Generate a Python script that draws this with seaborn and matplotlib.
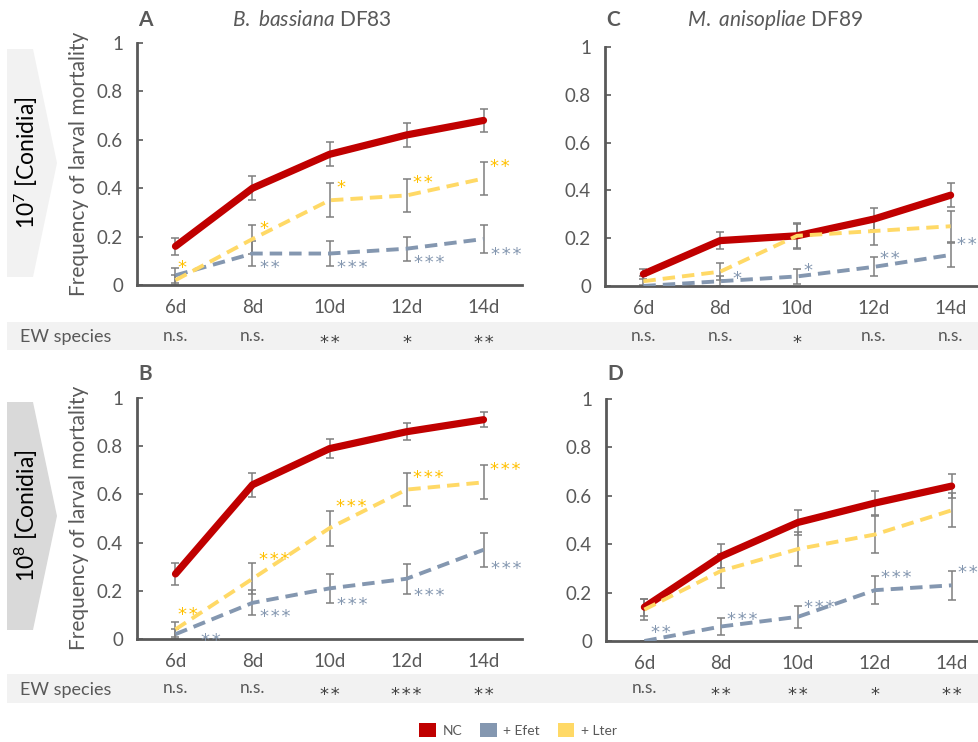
import numpy as np
import pandas as pd
import matplotlib
matplotlib.use("Agg")
import matplotlib.pyplot as plt
import matplotlib.patches as mpatches
import matplotlib.transforms as mtrans
import seaborn as sns

# ---------------- data ----------------
days = ["6d", "8d", "10d", "12d", "14d"]
series_names = ["NC", "+ Efet", "+ Lter"]

# Panel A: B. bassiana DF83, 10^7 conidia
a_nc = [0.16, 0.40, 0.54, 0.62, 0.68]
a_nc_err = [0.035, 0.05, 0.05, 0.05, 0.048]
a_efet = [0.04, 0.13, 0.13, 0.15, 0.19]
a_efet_err = [0.03, 0.05, 0.05, 0.05, 0.057]
a_lter = [0.02, 0.19, 0.35, 0.37, 0.44]
a_lter_err = [0.02, 0.06, 0.07, 0.07, 0.07]
a_efet_sig = ["", "**", "***", "***", "***"]
a_lter_sig = ["*", "*", "*", "**", "**"]
a_ew = ["n.s.", "n.s.", "**", "*", "**"]

# Panel C: M. anisopliae DF89, 10^7 conidia
c_nc = [0.05, 0.19, 0.21, 0.28, 0.38]
c_nc_err = [0.02, 0.037, 0.055, 0.045, 0.05]
c_efet = [0.0, 0.02, 0.04, 0.08, 0.13]
c_efet_err = [0.005, 0.02, 0.03, 0.04, 0.05]
c_lter = [0.02, 0.06, 0.21, 0.23, 0.25]
c_lter_err = [0.02, 0.035, 0.05, 0.06, 0.065]
c_efet_sig = ["", "*", "*", "**", "**"]
c_lter_sig = ["", "", "", "", ""]
c_ew = ["n.s.", "n.s.", "*", "n.s.", "n.s."]

# Panel B: B. bassiana DF83, 10^8 conidia
b_nc = [0.27, 0.64, 0.79, 0.86, 0.91]
b_nc_err = [0.045, 0.05, 0.04, 0.035, 0.03]
b_efet = [0.02, 0.15, 0.21, 0.25, 0.37]
b_efet_err = [0.02, 0.052, 0.06, 0.063, 0.07]
b_lter = [0.04, 0.25, 0.46, 0.62, 0.65]
b_lter_err = [0.03, 0.065, 0.073, 0.07, 0.07]
b_efet_sig = ["**", "***", "***", "***", "***"]
b_lter_sig = ["**", "***", "***", "***", "***"]
b_ew = ["n.s.", "n.s.", "**", "***", "**"]

# Panel D: M. anisopliae DF89, 10^8 conidia
d_nc = [0.14, 0.35, 0.49, 0.57, 0.64]
d_nc_err = [0.035, 0.05, 0.05, 0.05, 0.05]
d_efet = [0.0, 0.06, 0.10, 0.21, 0.23]
d_efet_err = [0.0, 0.037, 0.045, 0.058, 0.06]
d_lter = [0.13, 0.29, 0.38, 0.44, 0.54]
d_lter_err = [0.045, 0.07, 0.07, 0.075, 0.07]
d_efet_sig = ["**", "***", "***", "***", "**"]
d_lter_sig = ["", "", "", "", ""]
d_ew = ["n.s.", "**", "**", "*", "**"]

yticks = [0, 0.2, 0.4, 0.6, 0.8, 1]
ytick_labels = ["0", "0.2", "0.4", "0.6", "0.8", "1"]

# ---------------- style ----------------
sns.set_theme(style="white")
FONT = "Lato"
plt.rcParams["font.family"] = [FONT, "DejaVu Sans"]
plt.rcParams["mathtext.fontset"] = "custom"
plt.rcParams["mathtext.rm"] = FONT
plt.rcParams["mathtext.it"] = FONT + ":italic"
plt.rcParams["mathtext.bf"] = FONT + ":bold"

RED = "#C00000"
BLUE = "#8497B0"
YELLOW = "#FFD966"
STAR_Y = "#FFC000"
TXT = "#595959"
AXC = "#595959"
ERRC = "#7F7F7F"

W, H = 979, 742
fig = plt.figure(figsize=(W / 100, H / 100), dpi=100)


def fx(px):
    return px / W


def fy(py):
    return 1 - py / H


# left arrows (chevrons)
for (top, bot, col) in [(49, 277, "#F2F2F2"), (402, 630, "#D9D9D9")]:
    mid = (top + bot) / 2
    pts = [(fx(7), fy(top)), (fx(33), fy(top)), (fx(57), fy(mid)),
           (fx(33), fy(bot)), (fx(7), fy(bot))]
    fig.patches.append(mpatches.Polygon(pts, closed=True, transform=fig.transFigure,
                                        facecolor=col, edgecolor="none", zorder=-5))

fig.text(fx(26), fy(163), r"$\mathregular{10^7}$ [Conidia]", rotation=90,
         ha="center", va="center", fontsize=16.5, color="black")
fig.text(fx(26), fy(516), r"$\mathregular{10^8}$ [Conidia]", rotation=90,
         ha="center", va="center", fontsize=16.5, color="black")

# EW species strips
for (top, bot) in [(322, 350), (674, 703)]:
    fig.patches.append(mpatches.Rectangle((fx(7), fy(bot)), fx(979) - fx(7), fy(top) - fy(bot),
                                          transform=fig.transFigure, facecolor="#F2F2F2",
                                          edgecolor="none", zorder=-5))
    fig.text(fx(20), fy((top + bot) / 2 + 1), "EW species", ha="left", va="center",
             fontsize=13, color=TXT)

# y labels
for cy in [164, 518]:
    fig.text(fx(79), fy(cy), "Frequency of larval mortality", rotation=90,
             ha="center", va="center", fontsize=15, color=TXT)

panels = [
    dict(rect=(137, 43, 522, 285), letter="A", title=r"$\it{B.\ bassiana}$ DF83",
         title_x=312, title_y=20, strip_y=336,
         nc=a_nc, nce=a_nc_err, ef=a_efet, efe=a_efet_err, lt=a_lter, lte=a_lter_err,
         efs=a_efet_sig, lts=a_lter_sig, ew=a_ew, ef_below=True),
    dict(rect=(605, 47, 989, 286), letter="C", title=r"$\it{M.\ anisopliae}$ DF89",
         title_x=775, title_y=20, strip_y=336,
         nc=c_nc, nce=c_nc_err, ef=c_efet, efe=c_efet_err, lt=c_lter, lte=c_lter_err,
         efs=c_efet_sig, lts=c_lter_sig, ew=c_ew, ef_below=False),
    dict(rect=(137, 398, 522, 639), letter="B", title=None,
         title_x=None, title_y=374, strip_y=688,
         nc=b_nc, nce=b_nc_err, ef=b_efet, efe=b_efet_err, lt=b_lter, lte=b_lter_err,
         efs=b_efet_sig, lts=b_lter_sig, ew=b_ew, ef_below=True),
    dict(rect=(606, 399, 990, 641), letter="D", title=None,
         title_x=None, title_y=374, strip_y=688,
         nc=d_nc, nce=d_nc_err, ef=d_efet, efe=d_efet_err, lt=d_lter, lte=d_lter_err,
         efs=d_efet_sig, lts=d_lter_sig, ew=d_ew, ef_below=False),
]

xpos = np.arange(len(days))

STAR_FS = 13
STAR_FAMILY = ["DejaVu Sans"]
# the DejaVu asterisk sits near cap height; shift baseline so its centre lands on the anchor
STAR_SHIFT = -0.55 * STAR_FS


def add_stars(ax, x, y, s, color, transform=None, ha="left"):
    base = transform if transform is not None else ax.transData
    tr = mtrans.offset_copy(base, fig=fig, x=0, y=STAR_SHIFT, units="points")
    ax.text(x, y, "\u200a".join(s), transform=tr, color=color, fontsize=STAR_FS,
            family=STAR_FAMILY, ha=ha, va="baseline", zorder=6, clip_on=False)


for p in panels:
    l, t, r, b = p["rect"]
    ax = fig.add_axes([fx(l), fy(b), fx(r) - fx(l), fy(t) - fy(b)])
    ax.set_facecolor("none")

    df = pd.DataFrame({
        "x": np.tile(xpos, 3),
        "y": np.concatenate([p["nc"], p["ef"], p["lt"]]),
        "err": np.concatenate([p["nce"], p["efe"], p["lte"]]),
        "series": np.repeat(series_names, len(days)),
    })

    # error bars
    for name in series_names:
        sub = df[df["series"] == name]
        ax.errorbar(sub["x"], sub["y"], yerr=sub["err"], fmt="none", ecolor=ERRC,
                    elinewidth=1.1, capsize=2.6, capthick=1.1, zorder=2)

    sns.lineplot(data=df[df["series"] == "NC"], x="x", y="y", ax=ax, color=RED,
                 lw=5.2, solid_capstyle="round", solid_joinstyle="round", zorder=3,
                 legend=False)
    sns.lineplot(data=df[df["series"] == "+ Efet"], x="x", y="y", ax=ax, color=BLUE,
                 lw=2.8, linestyle=(0, (3.2, 1.8)), zorder=4, legend=False)
    sns.lineplot(data=df[df["series"] == "+ Lter"], x="x", y="y", ax=ax, color=YELLOW,
                 lw=2.8, linestyle=(0, (3.2, 1.8)), zorder=5, legend=False)

    # significance stars on series
    for i in range(len(days)):
        s = p["lts"][i]
        if s:
            yv = p["lt"][i] + p["lte"][i]
            dx = 0.09
            if i == 0:
                yv += 0.05
                dx = 0.03
            elif p["letter"] == "B" and i in (1, 2):
                yv += 0.035
            add_stars(ax, i + dx, yv, s, STAR_Y)
        s = p["efs"][i]
        if s:
            if p["ef_below"]:
                yv = max(p["ef"][i] - p["efe"][i], 0.0) + 0.012
                dx = 0.1 if i > 0 else 0.33
            else:
                yv = p["ef"][i] + p["efe"][i] + 0.012
                dx = 0.08
                if i == 0:
                    yv += 0.04
                if p["letter"] == "C" and i == 1:
                    dx = 0.16
            add_stars(ax, i + dx, yv, s, BLUE)

    ax.set_xlim(-0.5, 4.5)
    ax.set_ylim(0, 1)
    ax.set_xticks(xpos)
    ax.set_xticklabels(days)
    ax.set_yticks(yticks)
    ax.set_yticklabels(ytick_labels)
    ax.set_xlabel("")
    ax.set_ylabel("")
    for side in ["top", "right"]:
        ax.spines[side].set_visible(False)
    for side in ["left", "bottom"]:
        ax.spines[side].set_color(AXC)
        ax.spines[side].set_linewidth(2)
    ax.tick_params(axis="y", direction="in", length=4, width=1.2, color=AXC,
                   labelsize=13.5, labelcolor=TXT, pad=10, left=True)
    ax.tick_params(axis="x", length=0, labelsize=13.5, labelcolor=TXT, pad=10)
    ax.grid(False)

    # EW strip values
    tr = mtrans.blended_transform_factory(ax.transData, fig.transFigure)
    for i, s in enumerate(p["ew"]):
        if s == "n.s.":
            ax.text(i, fy(p["strip_y"]), s, transform=tr, ha="center", va="center",
                    fontsize=12.5, color=TXT, clip_on=False)
        else:
            add_stars(ax, i, fy(p["strip_y"] + 2), s, "#404040", transform=tr, ha="center")

    # panel letter and title
    fig.text(fx(l + 1), fy(p["title_y"]), p["letter"], ha="left", va="center",
             fontsize=15, fontweight="bold", color=TXT)
    if p["title"]:
        fig.text(fx(p["title_x"]), fy(p["title_y"]), p["title"], ha="center",
                 va="center", fontsize=15, color=TXT)

# legend
handles = [mpatches.Patch(facecolor=c, edgecolor="none", label=n)
           for c, n in zip([RED, BLUE, YELLOW], series_names)]
leg = fig.legend(handles=handles, loc="center", bbox_to_anchor=(fx(518), fy(730)),
                 ncol=3, frameon=False, fontsize=10, handlelength=1.2, handleheight=1.2,
                 handletextpad=0.45, columnspacing=1.3, labelcolor=TXT)

fig.savefig("out.png", dpi=100)
